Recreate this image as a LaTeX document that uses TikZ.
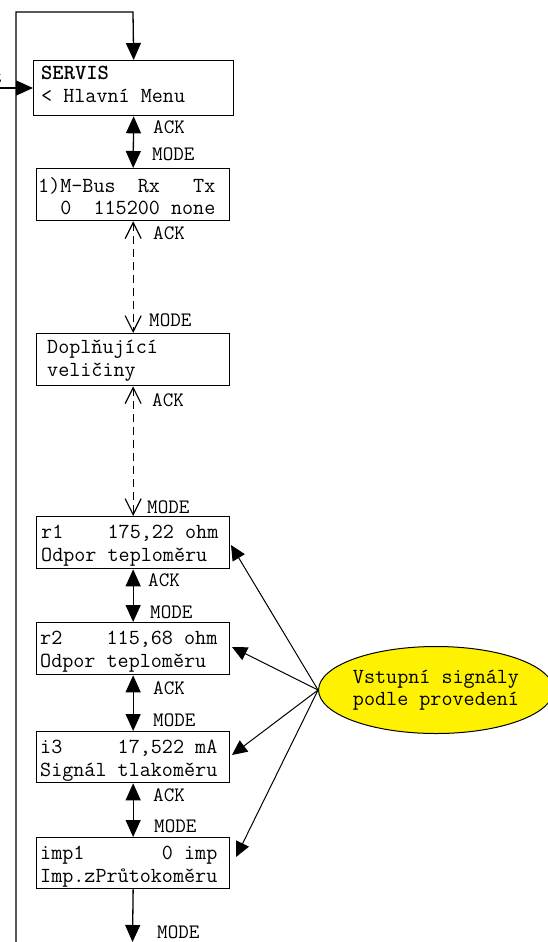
\documentclass[tikz,border=0pt]{standalone}
\usepackage{fontspec}
\usetikzlibrary{arrows.meta,shapes.geometric}
\begin{document}
\begin{tikzpicture}[x=1pt,y=-1pt,
  box/.style={draw,line width=1.3pt,inner sep=0pt,anchor=north west},
  txt/.style={font=\fontsize{21.5}{22}\ttfamily,inner sep=0pt,anchor=base west},
  lbl/.style={font=\fontsize{20.5}{22}\ttfamily,inner sep=0pt,anchor=west},
  solidarr/.style={line width=1.3pt,{Triangle[length=17pt,width=15pt]}-{Triangle[length=17pt,width=15pt]}},
  dasharr/.style={line width=1.2pt,dash pattern=on 8pt off 5pt,{Straight Barb[length=16pt,width=16pt,line width=1.2pt]}-{Straight Barb[length=16pt,width=16pt,line width=1.2pt]}},
  sigarr/.style={line width=1pt,-{Triangle[length=15pt,width=14pt]}},
  looparr/.style={line width=1.3pt,-{Triangle[length=17pt,width=15pt]}}]
\useasboundingbox (0,0) rectangle (547,942);
% boxes
\node[box,minimum width=200pt,minimum height=55pt] (b1) at (33,60) {};
\node[box,minimum width=193pt,minimum height=52pt] (b2) at (36,168) {};
\node[box,minimum width=193pt,minimum height=52pt] (b3) at (36,333) {};
\node[box,minimum width=193pt,minimum height=52pt] (b4) at (36,516) {};
\node[box,minimum width=193pt,minimum height=52pt] (b5) at (36,622) {};
\node[box,minimum width=193pt,minimum height=51pt] (b6) at (36,731) {};
\node[box,minimum width=193pt,minimum height=51pt] (b7) at (36,837) {};
% texts
\node[txt] (t1a) at (41,80) {\bfseries SERVIS};
\node[txt] (t1b) at (41,102) {<\ Hlavní\ Menu};
\node[txt] (t2a) at (38,192) {1)M-Bus\ \ Rx\ \ \ Tx};
\node[txt] (t2b) at (38,214) {\ \ 0\ \ 115200\ none};
\node[txt] (t3a) at (47,353) {Doplňující};
\node[txt] (t3b) at (47,376) {veličiny};
\node[txt] (t4a) at (41,538) {r1\ \ \ \ 175,22\ ohm};
\node[txt] (t4b) at (41,561) {Odpor\ teploměru};
\node[txt] (t5a) at (40,644) {r2\ \ \ \ 115,68\ ohm};
\node[txt] (t5b) at (40,667) {Odpor\ teploměru};
\node[txt] (t6a) at (40,753) {i3\ \ \ \ \ 17,522\ mA};
\node[txt] (t6b) at (40,776) {Signál\ tlakoměru};
\node[txt] (t7a) at (40,859) {imp1\ \ \ \ \ \ \ 0\ imp};
\node[txt] (t7b) at (40,882) {Imp.zPrůtokoměru};
% side text cut off at left
\node[txt,anchor=base east] (tleft) at (3,84) {t};
% loop
\coordinate (lb) at (16,942);
\coordinate (lt) at (16,12);
\coordinate (lr) at (133,12);
\draw[looparr] (lb) -- (lt) -- (lr) -- (b1.north);
\coordinate (inl) at (0,88);
\draw[looparr] (inl) -- (b1.west |- inl);
% connectors
\draw[solidarr] (b1.south) -- (b2.north);
\draw[dasharr] (b2.south) -- (b3.north);
\draw[dasharr] (b3.south) -- (b4.north);
\draw[solidarr] (b4.south) -- (b5.north);
\draw[solidarr] (b5.south) -- (b6.north);
\draw[solidarr] (b6.south) -- (b7.north);
\coordinate (bend) at (132.5,942);
\draw[looparr] (b7.south) -- (bend);
% labels
\node[lbl] (a1) at (153,127) {ACK};
\node[lbl] (m1) at (152,154) {MODE};
\node[lbl] (a2) at (153,233) {ACK};
\node[lbl] (m2) at (149,320) {MODE};
\node[lbl] (a3) at (152,400) {ACK};
\node[lbl] (m3) at (147,507) {MODE};
\node[lbl] (a4) at (148,580) {ACK};
\node[lbl] (m4) at (150,612) {MODE};
\node[lbl] (a5) at (153,688) {ACK};
\node[lbl] (m5) at (153,720) {MODE};
\node[lbl] (a6) at (153,795) {ACK};
\node[lbl] (m6) at (154,826) {MODE};
\node[lbl] (m7) at (157,932) {MODE};
% ellipse
\node[ellipse,draw,line width=1pt,fill=yellow,minimum width=212pt,minimum height=87pt,inner sep=0pt,align=left,font=\fontsize{21.5}{22}\ttfamily] (sig) at (436,690) {Vstupní\ signály\\podle\ provedení};
\coordinate (p4) at (231,545);
\coordinate (p5) at (232,647);
\coordinate (p6) at (232,755);
\coordinate (p7) at (236,857);
\draw[sigarr] (sig.west) -- (p4);
\draw[sigarr] (sig.west) -- (p5);
\draw[sigarr] (sig.west) -- (p6);
\draw[sigarr] (sig.west) -- (p7);
\end{tikzpicture}
\end{document}
